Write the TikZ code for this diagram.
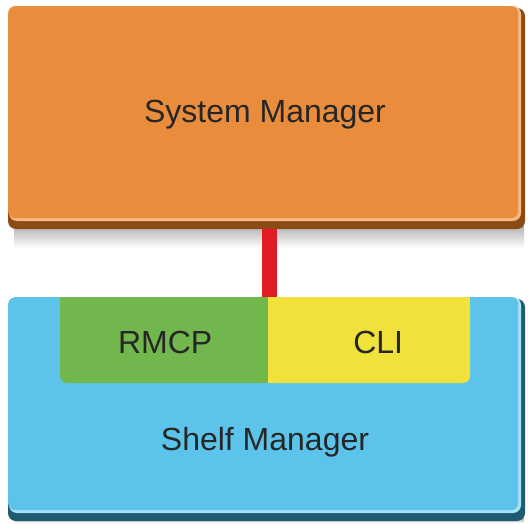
\documentclass[tikz,border=0pt]{standalone}
\usepackage{fontspec}
\setmainfont{Liberation Sans}
\usetikzlibrary{calc}
\definecolor{orangeface}{HTML}{E98D3D}
\definecolor{orangedark}{HTML}{8A4B14}
\definecolor{orangelight}{HTML}{F6B985}
\definecolor{blueface}{HTML}{5CC4EA}
\definecolor{bluedark}{HTML}{1D5B72}
\definecolor{bluelight}{HTML}{A8E2F6}
\definecolor{greenface}{HTML}{72B74E}
\definecolor{yellowface}{HTML}{F1E13B}
\definecolor{linkred}{HTML}{E31B24}
\tikzset{
  face/.style={rounded corners=7pt, inner sep=0pt, anchor=north west},
  base/.style={rounded corners=8pt},
  label/.style={font=\fontsize{32}{37}\selectfont, text=black!85},
}
\begin{document}
\begin{tikzpicture}[x=1pt,y=-1pt]
\fill[white] (0,0) rectangle (528,523);
\useasboundingbox (0,0) rectangle (528,523);
% shadows
\shade[top color=black!30, bottom color=white] (14,226) rectangle (524,248);
\shade[top color=black!30, bottom color=white] (14,518) rectangle (524,523);
% System Manager box
\fill[orangedark, base] (8,8) rectangle (525,229);
\fill[orangelight, base] (9,6) rectangle (521,221);
\node[face, fill=orangeface, minimum width=510pt, minimum height=212pt] (sys) at (8,6) {};
\node[label] (syslabel) at (265,115) {System Manager};
% Shelf Manager box
\fill[bluedark, base] (8,299) rectangle (525,521);
\fill[bluelight, base] (9,297) rectangle (521,513);
\node[face, fill=blueface, minimum width=510pt, minimum height=213pt] (shelf) at (8,297) {};
% RMCP and CLI
\fill[greenface, rounded corners=7pt] (60,297) -- (60,383) -- (268,383) -- (268,297) -- cycle;
\node[inner sep=0pt, anchor=north west, minimum width=208pt, minimum height=86pt] (rmcp) at (60,297) {};
\fill[yellowface, rounded corners=7pt] (268,297) -- (268,383) -- (470,383) -- (470,297) -- cycle;
\fill[greenface] (60,297) rectangle (80,310);
\fill[greenface] (248,297) rectangle (268,383);
\fill[yellowface] (268,297) rectangle (290,383);
\fill[yellowface] (450,297) rectangle (470,310);
\node[inner sep=0pt, anchor=north west, minimum width=202pt, minimum height=86pt] (cli) at (268,297) {};
\node[label] (rmcplabel) at ($(rmcp.center)+(1,2)$) {RMCP};
\node[label] (clilabel) at ($(cli.center)+(9,2)$) {CLI};
\node[label] (shelflabel) at (265,442) {Shelf Manager};
% connector
\coordinate (linktop) at ($(sys.south)+(6.5,11)$);
\draw[linkred, line width=15pt] (linktop) -- (linktop |- shelf.north);
\end{tikzpicture}
\end{document}
